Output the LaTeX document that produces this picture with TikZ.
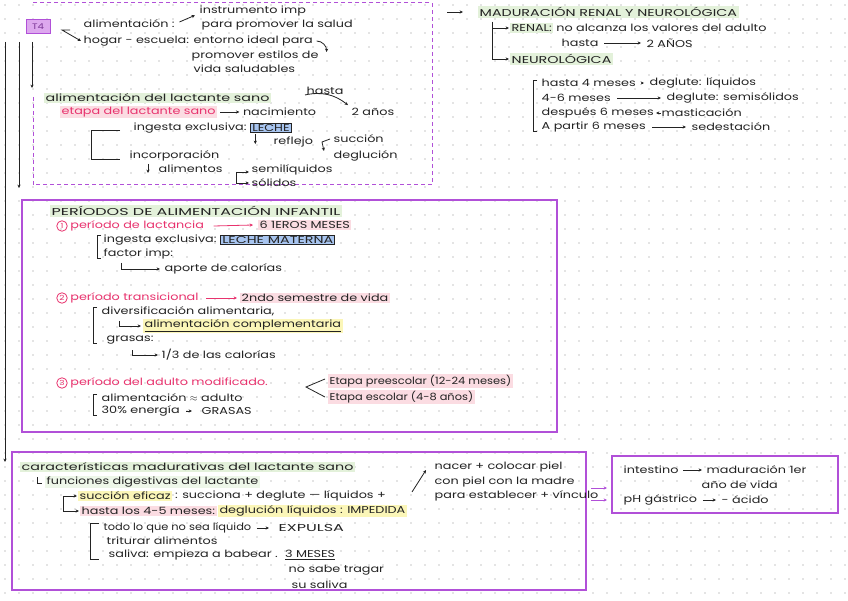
\documentclass[tikz,border=0pt]{standalone}
\usepackage{fontspec}
\setmainfont{Poppins}[FakeStretch=1.28]
\newfontfamily\widefont{Poppins}[FakeStretch=1.6]
\newfontfamily\semiwide{Poppins}[FakeStretch=1.43]
\newfontfamily\narrowfont{Poppins}[FakeStretch=1.14]
\usetikzlibrary{arrows.meta,positioning}
\definecolor{ink}{HTML}{232323}
\definecolor{rosa}{HTML}{E8336E}
\definecolor{hlpink}{HTML}{FBDCE2}
\definecolor{hlgreen}{HTML}{E3F1DA}
\definecolor{hlyellow}{HTML}{FBF6B8}
\definecolor{hlblue}{HTML}{A8C5F0}
\definecolor{violeta}{HTML}{B150D8}
\definecolor{t4fill}{HTML}{DDA8EE}
\definecolor{dotc}{HTML}{CACACA}
\tikzset{
    every node/.style={font=\fontsize{10}{11}\selectfont, text=ink},
    txt/.style={anchor=west, inner xsep=1.5pt, inner ysep=1pt},
    hlg/.style={txt, fill=hlgreen},
    hlp/.style={txt, fill=hlpink},
    hly/.style={txt, fill=hlyellow},
    bluebox/.style={txt, fill=hlblue, draw=ink, line width=0.9pt},
    line/.style={-{Stealth[length=3.4pt,width=3.2pt]}, line width=0.8pt, ink},
    rline/.style={line, rosa},
    pline/.style={line, violeta},
    brack/.style={line width=0.8pt, ink},
    frame/.style={draw=violeta, line width=1.2pt},
    dframe/.style={draw=violeta, line width=1pt, dash pattern=on 4pt off 3pt},
    num/.style={circle, draw=rosa, text=rosa, line width=0.8pt, inner sep=0pt, minimum size=10.5pt, font=\fontsize{7}{7}\selectfont},
    tagbox/.style={draw=violeta, fill=t4fill, line width=1pt, minimum width=24pt, minimum height=14pt, text=violeta!70!black, font=\fontsize{8}{9}\selectfont}
}

\begin{document}
\begin{tikzpicture}[
    x=1pt, y=-1pt,
    node distance=3pt and 4pt,
]
\useasboundingbox[fill=white] (0,0) rectangle (848,601);

\foreach \i in {0,...,60}
  \foreach \j in {0,...,42}
    \fill[dotc] (5+14*\i, 5+14*\j) circle (0.8);

\draw[dframe] (33,97) -- (33,185) -- (432,185) -- (432,3) -- (33,3);
\draw[frame] (22,200) rectangle (557,432);
\draw[frame] (12,452) rectangle (586,590);
\draw[frame] (612,456) rectangle (838,513);

\coordinate (top1) at (5,42);
\coordinate (top2) at (19,42);
\coordinate (top3) at (32,42);
\draw[line] (top1) -- ++(0,420);
\draw[line] (top2) -- ++(0,146);
\draw[line] (top3) -- ++(0,46);

\node[tagbox] (t4) at (38,27) {T4};
\node[txt] (alim) at (82,24) {alimentación :};
\node[txt] (instr) at (198,11) {instrumento imp};
\node[txt] (salud) at (200,25) {para promover la salud};
\node[txt] (hogar) at (82,41) {hogar - escuela: entorno ideal para};
\node[txt] (estilos) at (190,56) {promover estilos de};
\node[txt] (vida) at (192,69) {vida saludables};
\draw[line] ([xshift=3pt,yshift=2pt]alim.east) -- ([xshift=-3pt,yshift=2pt]instr.south west);
\draw[line] ([shift={(-12pt,-6pt)}]alim.west) -- ++(-8,0) -- ([xshift=-1pt]hogar.west);
\draw[line] ([xshift=2pt]hogar.east) to[out=0, in=90] ++(10,11);

\node[hlg] (als) at (44,98) {\semiwide alimentación del lactante sano};
\node[hlp, text=rosa] (etapa) at (60,112) {etapa del lactante sano};
\node[txt, right=24pt of etapa] (nac) {nacimiento};
\node[txt] (dos) at (350,112) {2 años};
\node[txt] (hasta) at (305,91) {hasta};
\draw[line] ([xshift=3pt]etapa.east) -- ([xshift=-2pt]nac.west);
\draw[line] ([yshift=1pt]hasta.south west) to[bend left=25] ([xshift=-2pt,yshift=2pt]dos.north west);
\node[txt] (ing) at (132,128) {ingesta exclusiva:};
\node[bluebox, right=2pt of ing] (leche) {LECHE};
\node[txt] (refl) at (272,142) {reflejo};
\draw[line] ([xshift=5pt,yshift=-1pt]leche.south west) -- ++(0,10);
\node[txt] (succ) at (332,139) {succión};
\node[txt] (deg) at (332,156) {deglución};
\draw[line] ([xshift=-2pt]succ.west) -- ++(-8,3) -- ++(2,9);
\node[txt] (inc) at (128,156) {incorporación};
\node[txt] (alims) at (157,169) {alimentos};
\draw[brack] ([xshift=-12pt,yshift=-2pt]ing.west) -- ++(-29,0) |- ([xshift=-8pt,yshift=-3pt]inc.west);
\draw[line] ([shift={(-9pt,5pt)}]alims.west) -- ++(0,9);
\node[txt] (semi) at (250,170) {semilíquidos};
\node[txt] (sol) at (250,183) {sólidos};
\coordinate (fork) at (236,172);
\draw[line] (fork) -- ([xshift=-1pt]fork -| semi.west);
\draw[line] (fork) |- ([xshift=-1pt]sol.west);

\node[hlg] (mad) at (478,12) {\semiwide MADURACIÓN RENAL Y NEUROLÓGICA};
\draw[line] ([xshift=-31pt]mad.west) -- ([xshift=-15pt]mad.west);
\node[hlg] (renal) at (510,28) {RENAL:};
\node[txt, right=1pt of renal] (renaltxt) {no alcanza los valores del adulto};
\node[txt] (hasta2) at (560,43) {hasta};
\node[txt] (dosa) at (645,43) {2 AÑOS};
\draw[line] ([xshift=4pt]hasta2.east) -- ([xshift=-4pt]dosa.west);
\node[hlg] (neuro) at (510,59) {\semiwide NEUROLÓGICA};
\draw[line] ([shift={(14pt,-4pt)}]mad.south west) |- ([xshift=-1pt]renal.west);
\draw[line] ([shift={(14pt,-4pt)}]mad.south west) |- ([xshift=-1pt]neuro.west);

\node[txt] (h4) at (540,83) {hasta 4 meses};
\node[txt] (m46) at (540,98) {4-6 meses};
\node[txt] (d6) at (540,113) {después 6 meses};
\node[txt] (a6) at (540,127) {A partir 6 meses};
\node[txt] (r1) at (648,83) {deglute: líquidos};
\node[txt] (r2) at (665,98) {deglute: semisólidos};
\node[txt] (r3) at (660,113) {masticación};
\node[txt] (r4) at (690,127) {sedestación};
\foreach \a/\b in {h4/r1, m46/r2, d6/r3, a6/r4}
  \draw[line] ([xshift=5pt]\a.east) -- ([xshift=-4pt]\b.west);
\draw[brack] ([xshift=-3pt,yshift=-2pt]h4.north west) -- ++(-4,0) |- ([xshift=-3pt,yshift=2pt]a6.south west);

\node[hlg] (per) at (50,211) {\widefont PERÍODOS DE ALIMENTACIÓN INFANTIL};
\node[num] (n1) at (62,226) {1};
\node[txt, text=rosa, right=1pt of n1] (p1) {período de lactancia};
\node[hlp] (s1) at (258,225) {6 1EROS MESES};
\draw[rline] ([xshift=8pt]p1.east) -- ([xshift=-5pt]s1.west);
\node[txt] (ie) at (102,240) {ingesta exclusiva:};
\node[bluebox, right=2pt of ie] (lm) {\semiwide LECHE MATERNA};
\node[txt] (fi) at (102,254) {factor imp:};
\node[txt] (apc) at (163,269) {aporte de calorías};
\draw[line] ([shift={(-42pt,6pt)}]apc.west) |- ([xshift=-3pt]apc.west);
\draw[brack] ([xshift=-1pt,yshift=-2pt]ie.north west) -- ++(-4,0) |- ([xshift=-1pt,yshift=2pt]fi.south west);

\node[num] (n2) at (62,298) {2};
\node[txt, text=rosa, right=1pt of n2] (p2) {período transicional};
\node[hlp] (s2) at (240,298) {2ndo semestre de vida};
\draw[rline] ([xshift=6pt]p2.east) -- ([xshift=-3pt]s2.west);
\node[txt] (div) at (100,311) {diversificación alimentaria,};
\node[hly] (ac) at (143,326) {\underline{alimentación complementaria}};
\draw[line] ([shift={(-24pt,5pt)}]ac.west) |- ([xshift=-2pt]ac.west);
\node[txt] (gr) at (105,340) {grasas:};
\node[txt] (cal) at (160,355) {1/3 de las calorías};
\draw[line] ([shift={(-28pt,5pt)}]cal.west) |- ([xshift=-2pt]cal.west);
\draw[brack] ([xshift=-3pt,yshift=-2pt]div.north west) -- ++(-4,0) |- ([xshift=-8pt,yshift=2pt]gr.south west);

\node[num] (n3) at (62,383) {3};
\node[txt, text=rosa, right=1pt of n3] (p3) {período del adulto modificado.};
\node[hlp] (e1) at (328,381) {\narrowfont Etapa preescolar (12-24 meses)};
\node[hlp] (e2) at (328,397) {\narrowfont Etapa escolar (4-8 años)};
\draw[brack] ([xshift=-3pt,yshift=2pt]e1.west) -- ([shift={(-22pt,-6pt)}]e1.west) -- ([xshift=-3pt]e2.west);
\node[txt] (ad) at (100,398) {alimentación $\approx$ adulto};
\node[txt] (en) at (100,411) {30\% energía};
\node[txt] (gra) at (200,411) {GRASAS};
\draw[line] ([xshift=5pt]en.east) -- ([xshift=-8pt]gra.west);
\draw[brack] ([xshift=-3pt,yshift=-2pt]ad.north west) -- ++(-4,0) |- ([xshift=-3pt,yshift=2pt]en.south west);

\node[hlg] (car) at (20,467) {\semiwide características madurativas del lactante sano};
\node[txt, fill=hlgreen!60] (fd) at (45,482) {funciones digestivas del lactante};
\draw[brack] ([xshift=-8pt,yshift=5pt]fd.west) -- ++(0,6) -- ++(5,0);
\node[hly] (se) at (78,496) {succión eficaz};
\node[txt, right=1pt of se] (sed) {: succiona + deglute — líquidos +};
\node[hlp] (h45) at (80,511) {hasta los 4-5 meses:};
\node[hly, right=1pt of h45] (dli) {deglución líquidos : IMPEDIDA};
\draw[line] ([xshift=-15pt]se.west) -- ([xshift=-1pt]se.west);
\draw[line] ([xshift=-15pt]se.west) |- ([xshift=-1pt]h45.west);
\node[txt] (tl) at (102,528) {\narrowfont todo lo que no sea líquido};
\node[txt, right=24pt of tl] (exp) {\widefont EXPULSA};
\draw[line] ([xshift=4pt]tl.east) -- ([xshift=-8pt]exp.west);
\node[txt] (tri) at (105,541) {triturar alimentos};
\node[txt] (sal) at (107,555) {saliva: empieza a babear .};
\node[txt, right=4pt of sal] (tres) {\underline{3 MESES}};
\node[txt] (nst) at (287,570) {no sabe tragar};
\node[txt] (ssal) at (290,585) {su saliva};
\draw[brack] ([xshift=-3pt,yshift=-2pt]tl.north west) -- ++(-9,0) |- ([xshift=-8pt,yshift=2pt]sal.south west);
\node[txt] (nacer) at (433,467) {nacer + colocar piel};
\node[txt] (cpm) at (433,482) {con piel con la madre};
\node[txt] (pev) at (433,496) {para establecer + vínculo};
\draw[line] ([shift={(-21pt,-25pt)}]nacer.west) -- ([shift={(-7pt,-3pt)}]nacer.west);

\node[txt] (intes) at (622,470) {intestino};
\node[txt] (mad1) at (705,470) {maduración 1er};
\node[txt] (ano) at (700,485) {año de vida};
\node[txt] (ph) at (622,500) {pH gástrico};
\node[txt] (acido) at (720,500) {- ácido};
\draw[line] ([xshift=3pt]intes.east) -- ([xshift=-3pt]mad1.west);
\draw[line] ([xshift=4pt]ph.east) -- ([xshift=-4pt]acido.west);
\coordinate (o1) at (591,488);
\coordinate (o2) at (591,500);
\draw[pline] (o1) -- ++(16,0);
\draw[pline] (o2) -- ++(16,0);

\end{tikzpicture}
\end{document}
